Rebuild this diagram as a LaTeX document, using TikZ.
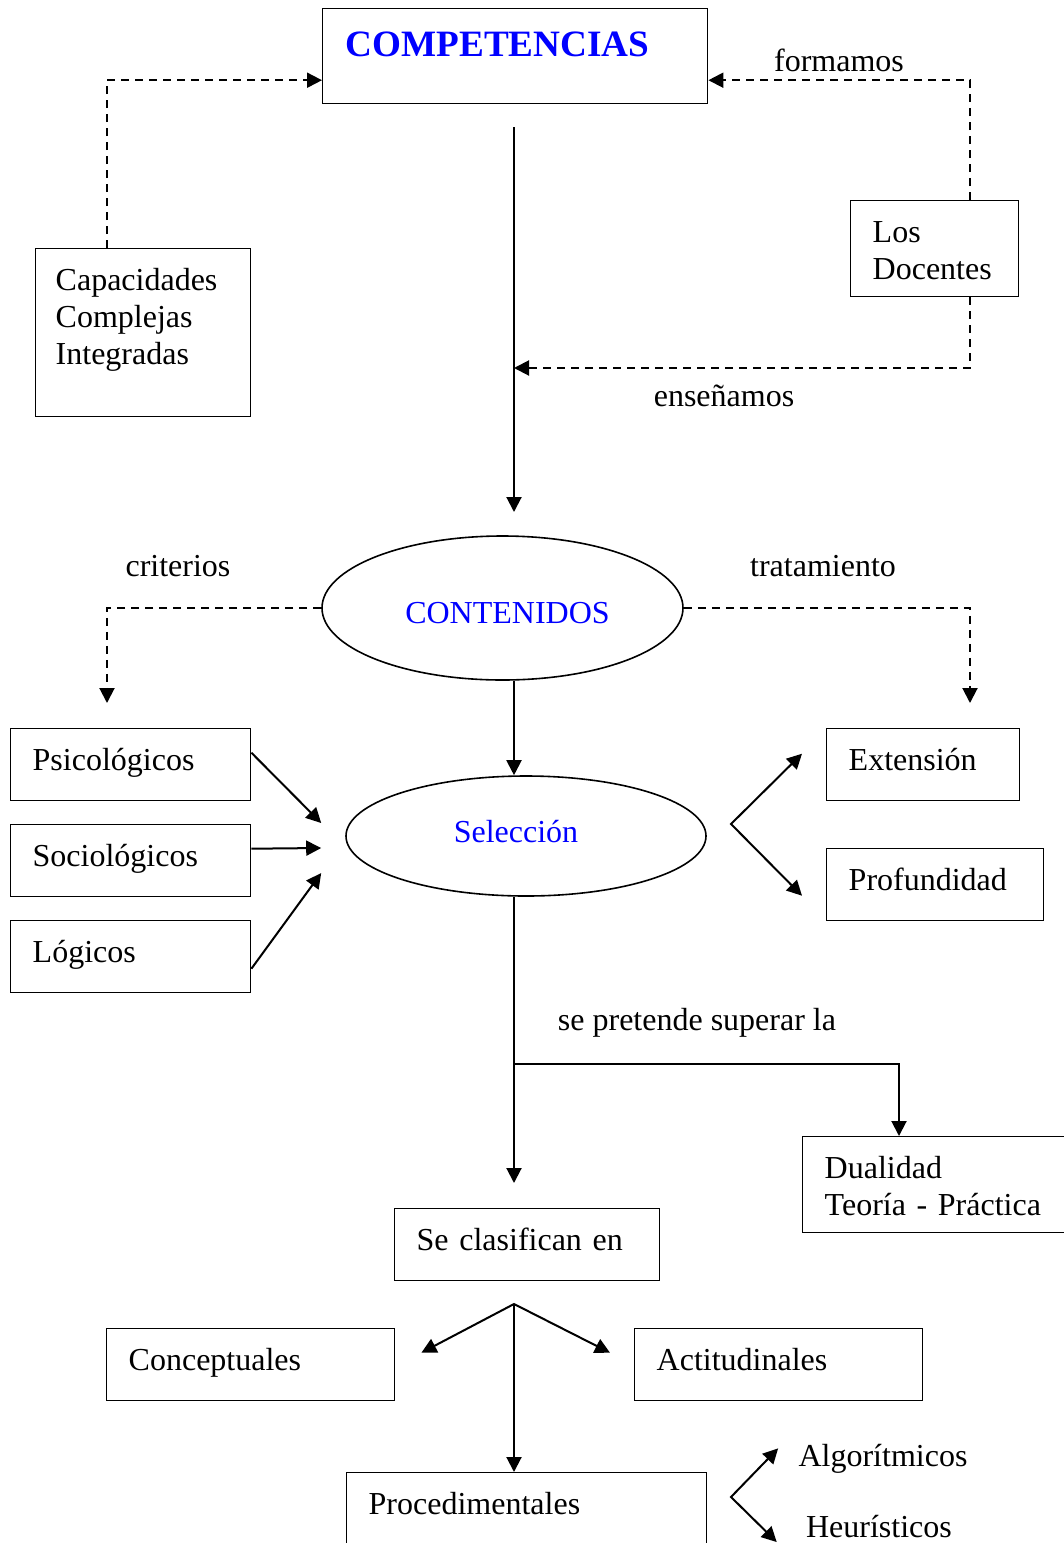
\documentclass[tikz,border=0pt]{standalone}
\usepackage{fontspec}
\setmainfont{Liberation Serif}
\usetikzlibrary{shapes.geometric,arrows.meta}
\tikzset{
  caja/.style={draw, line width=0.7pt, anchor=north west, inner ysep=0pt, inner xsep=11pt,
    align=left, text height=21pt, text depth=15pt, font=\fontsize{16}{18.5}\selectfont},
  ovalo/.style={draw, ellipse, line width=0.8pt, inner sep=0pt, text=blue,
    font=\fontsize{16}{18.5}\selectfont},
  etiqueta/.style={anchor=base, inner sep=0pt, font=\fontsize{16}{18.5}\selectfont},
  flecha/.style={line width=1pt, -{Triangle[length=7.5pt,width=7.5pt]}},
  flechas/.style={line width=1pt, {Triangle[length=7.5pt,width=7.5pt]}-{Triangle[length=7.5pt,width=7.5pt]}},
  guion/.style={dash pattern=on 4pt off 3pt},
}
\begin{document}
\begin{tikzpicture}[x=0.5pt,y=-0.5pt]
\useasboundingbox (0,0) rectangle (1064,1543);
\clip (0,0) rectangle (1064,1543);
% cajas
\node[caja, text width=169.5pt, inner xsep=11.5pt, text height=24pt, text depth=23.5pt,
  font=\fontsize{18.6}{21}\selectfont\bfseries, text=blue] (comp) at (322,8) {COMPETENCIAS};
\node[caja, text width=87.5pt, inner xsep=10pt, text depth=63pt] (cap) at (35,248) {Capacidades\\Complejas\\Integradas};
\node[caja, text width=62pt, text depth=27pt] (doc) at (850,200) {Los\\Docentes};
\node[ovalo, minimum width=180.5pt, minimum height=72pt, text height=15.6pt, text depth=0pt] (cont) at (502.5,608) {\kern5pt CONTENIDOS};
\node[ovalo, minimum width=180pt, minimum height=60pt, text height=12pt, text depth=6pt] (sel) at (526,836) {Selección\kern10pt};
\node[caja, text width=98pt] (psi) at (10,728) {Psicológicos};
\node[caja, text width=98pt] (soc) at (10,824) {Sociológicos};
\node[caja, text width=98pt] (log) at (10,920) {Lógicos};
\node[caja, text width=74.5pt] (ext) at (826,728) {Extensión};
\node[caja, text width=86.5pt] (prof) at (826,848) {Profundidad};
\node[caja, text width=110pt, text depth=27pt] (dual) at (802,1136) {Dualidad\\Teoría - Práctica};
\node[caja, text width=110.5pt] (clas) at (394,1208) {Se clasifican en};
\node[caja, text width=122pt] (conc) at (106,1328) {Conceptuales};
\node[caja, text width=122pt] (acti) at (634,1328) {Actitudinales};
\node[caja, text width=158pt, text depth=29pt] (proc) at (346,1472) {Procedimentales};
\node[etiqueta] (alg) at (883,1466) {Algorítmicos};
\node[etiqueta] (heu) at (879,1537) {Heurísticos};
% etiquetas
\node[etiqueta] (lform) at (839,71) {formamos};
\node[etiqueta] (lense) at (724,406) {enseñamos};
\node[etiqueta] (lcrit) at (178,576) {criterios};
\node[etiqueta] (ltrat) at (823,576) {tratamiento};
\node[etiqueta] (lsup) at (697,1030) {se pretende superar la};
% eje central
\coordinate (s1) at (514,127);
\coordinate (s2) at (514,512);
\coordinate (s3) at (514,368);
\coordinate (s4) at (514,1064);
\coordinate (s5) at (514,1183);
\coordinate (s6) at (514,1304);
\coordinate (v1) at (731,824);
\coordinate (v2) at (731,1497);
\draw[flecha] (s1) -- (s2);
\draw[flecha, guion] ([xshift=36pt]cap.north west) |- ([yshift=-12pt]comp.west);
\draw[flecha, guion] ([xshift=60pt]doc.north west) |- ([yshift=-12pt]comp.east);
\draw[flecha, guion] ([xshift=60pt]doc.south west) |- (s3);
\draw[flecha, guion] (cont.west) -| ([xshift=48.5pt,yshift=12.5pt]psi.north west);
\draw[flecha, guion] (cont.east) -| ([xshift=72pt,yshift=12.5pt]ext.north west);
\draw[flecha] (cont.south -| s1) -- (sel.north -| s1);
\draw[flecha] ([yshift=6pt]psi.east) -- ([xshift=-12pt,yshift=6.5pt]sel.west);
\draw[flecha] ([yshift=6pt]soc.east) -- ([xshift=-12pt,yshift=-6pt]sel.west);
\draw[flecha] ([yshift=-6pt]log.east) -- ([xshift=-12pt,yshift=-18.5pt]sel.west);
\draw[flechas] ([xshift=-12pt,yshift=5.5pt]ext.west) -- (v1) -- ([xshift=-12pt,yshift=-5.5pt]prof.west);
\draw[flecha] (sel.south -| s1) -- (s5);
\draw[flecha] (s4) -| ([xshift=48.5pt]dual.north west);
\draw[flechas] ([xshift=13pt,yshift=6pt]conc.east) -- (s6) -- ([xshift=-12pt,yshift=6pt]acti.west);
\draw[flecha] (s6) -- (proc.north -| s1);
\draw[flechas] ([xshift=-10pt,yshift=5pt]alg.west) -- (v2) -- ([xshift=-14.5pt,yshift=-8pt]heu.west);
\end{tikzpicture}
\end{document}
